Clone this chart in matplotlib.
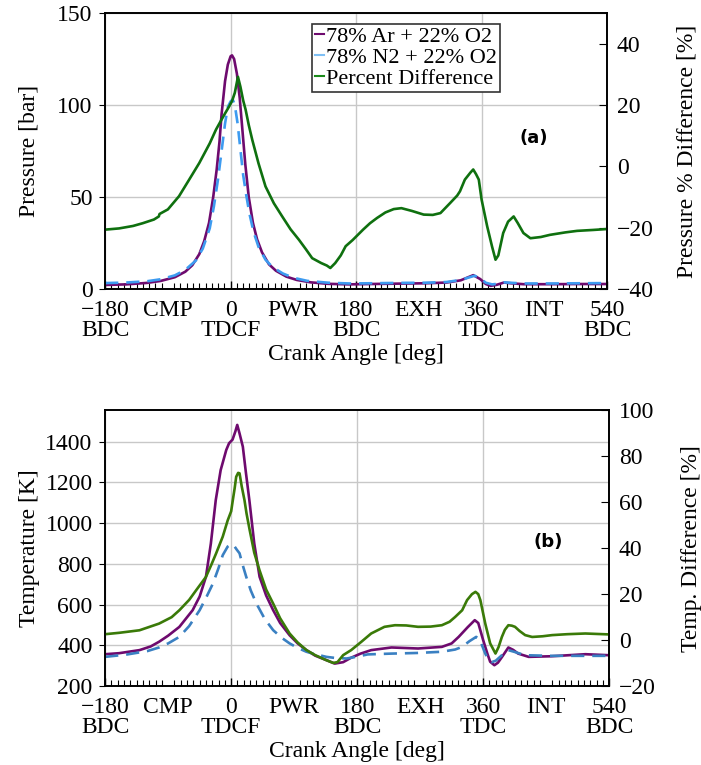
import numpy as np
import matplotlib
matplotlib.use("Agg")
import matplotlib.pyplot as plt
from matplotlib.ticker import MultipleLocator
from matplotlib.lines import Line2D

plt.rcParams['font.family'] = ['Liberation Serif', 'DejaVu Serif']
plt.rcParams['font.size'] = 17

# ---- data ----
# (a) pressure [bar]
p_ar_deg = [-180, -150, -120, -100, -80, -65, -55, -45, -38, -31, -25, -20, -16, -13, -8, -4, 0, 2, 5, 9,
            13, 17, 21, 26, 32, 38, 45, 55, 65, 80, 95, 115, 140, 170, 200, 240, 280, 310, 330, 348,
            358, 366, 373, 382, 392, 402, 420, 460, 500, 540]
p_ar = [2.3, 2.6, 3.4, 4.5, 6.5, 9.5, 13, 19, 26, 36, 50, 65, 80, 95, 113, 122, 126.5, 127, 125, 117,
        104, 86, 68, 50, 36, 27, 20, 13.5, 10, 6.8, 5, 3.7, 2.9, 2.6, 2.8, 3.0, 3.2, 3.6, 4.8, 7.6,
        5.5, 2.8, 1.8, 2.4, 3.6, 3.2, 2.7, 2.7, 2.8, 2.8]

p_n2_deg = [-180, -150, -120, -100, -80, -65, -50, -40, -30, -24, -18, -13, -8, -4, 0, 3, 6, 10, 14, 18,
            22, 27, 33, 40, 50, 60, 75, 90, 110, 140, 170, 200, 240, 280, 310, 330, 350, 358, 366, 375,
            385, 393, 405, 420, 460, 500, 540]
p_n2 = [3.3, 3.6, 4.3, 5.4, 7.5, 10.5, 15.5, 22, 33, 45, 60, 75, 90, 99, 102, 103, 100, 90, 76, 62,
        52, 41, 31, 23, 16, 12, 8.5, 6.2, 4.5, 3.5, 3.1, 3.2, 3.4, 3.5, 3.9, 5.0, 7.3, 6, 3.5, 2.6,
        3.0, 3.7, 3.4, 3.1, 3.1, 3.2, 3.3]

p_diff_deg = [-180, -160, -140, -126, -110, -103, -102, -90, -74, -60, -45, -30, -21, -10, -2, 2, 6, 10.5,
              14, 18, 21.5, 26, 31, 40, 50, 62, 74, 86, 98, 108, 117, 130, 138, 143, 150, 158, 165, 175,
              190, 200, 210, 222, 234, 245, 260, 277, 290, 301, 315, 325, 329, 336, 344, 348, 352, 356,
              360, 368, 375, 380, 384, 391, 398, 406, 412, 420, 430, 445, 458, 480, 497, 520, 540]
p_diff = [-20.6, -20.2, -19.4, -18.5, -17.3, -16.3, -15.5, -14, -9.7, -4.5, 1.1, 7.5, 12, 16.5, 19.6, 21.3, 24, 29.2,
          26, 21.5, 18.5, 13.5, 8.7, 1, -6.5, -12, -16.3, -20.5, -23.9, -27, -29.9, -31.5, -32.3, -33.1, -31.5, -29, -26, -24,
          -20.6, -18.5, -16.8, -15, -13.9, -13.6, -14.5, -15.7, -15.8, -15.2, -11.9, -9.5, -8.1, -4.3, -2, -1.0, -2.5, -4.3,
          -10.8, -19.5, -26.1, -30.4, -29, -21.7, -18, -16.3, -18.5, -21.7, -23.4, -23, -22.3, -21.5, -21, -20.7, -20.4]

# (b) temperature [K]
t_ar_deg = [-180, -160, -131, -115, -103, -90, -74, -55, -45, -36, -29, -22, -15, -7, -3, 2, 6, 8.7, 12, 16.7,
            21, 26, 33, 40.6, 50, 60, 70, 83.5, 95, 107.5, 120, 136, 148, 160, 171.5, 185, 200, 229, 267, 301,
            315, 325, 338, 348, 353, 360, 366, 370, 376, 381, 387, 396, 403, 410, 425, 458, 506, 540]
t_ar = [357, 362, 377, 395, 418, 448, 491, 573, 640, 737, 900, 1113, 1260, 1359, 1392, 1410, 1450, 1482, 1440, 1375,
        1250, 1113, 900, 737, 645, 573, 510, 450, 410, 377, 350, 328, 311, 318, 340, 360, 377, 390, 385, 393,
        410, 442, 490, 524, 510, 426, 360, 320, 303, 315, 344, 390, 378, 360, 344, 347, 357, 352]

t_n2_deg = [-180, -150, -120, -103, -90, -74, -60, -45, -35, -26, -18, -12, -5, 0, 4, 8, 12, 16, 21.5, 28,
            36, 48, 60, 72, 83.5, 95, 107.5, 120, 136, 150, 165, 180, 195, 229, 265, 301, 320, 330, 340, 350,
            355, 363, 368, 372, 378, 386.7, 396, 405, 420, 458, 540]
t_n2 = [344, 355, 372, 390, 410, 442, 495, 573, 640, 704, 780, 843, 885, 897, 890, 870, 852, 800, 737, 670,
        606, 530, 475, 438, 410, 388, 369, 357, 344, 338, 336, 345, 356, 360, 363, 369, 380, 393, 420, 442,
        430, 360, 330, 318, 325, 352, 377, 368, 352, 349, 349]

t_diff_deg = [-180, -160, -131, -103, -85, -74, -60, -50, -36, -28, -21.5, -12, -5, 0, 2.4, 5, 7.2, 10, 12, 15,
              19, 22, 26.5, 33, 40.5, 50, 60, 70, 83.5, 95, 107.5, 120, 136, 146, 152, 160, 171.5, 186, 200, 219,
              234, 250, 267, 285, 301, 312, 320, 330, 337, 344, 349, 353, 356, 363, 370, 377.6, 382, 386.7, 391, 396,
              401, 405.5, 412, 420, 430, 445, 458.5, 480, 506, 540]
t_diff = [2.6, 3.2, 4.3, 7.2, 10, 13, 17.5, 21.7, 27.5, 33, 37.7, 45, 52, 56, 60.9, 66, 71, 72.7, 72.5, 67,
          60.9, 55, 47.8, 38, 30.4, 22, 15.9, 9.5, 2.9, -1, -4.3, -6.5, -8.7, -9.9, -9.5, -6.5, -4.3, -0.7, 2.9, 5.8,
          6.5, 6.4, 5.8, 5.9, 6.5, 8, 10.1, 13, 17.4, 20, 21, 20, 17.4, 7.2, -1.4, -5.8, -3, 1.4, 4.5, 6.5,
          6.3, 5.8, 4, 2.2, 1.4, 1.7, 2.2, 2.6, 2.9, 2.5]

tick_pos = [-180, -90, 0, 90, 180, 270, 360, 450, 540]
tick_lab = ['\u2212180\nBDC', 'CMP', '0\nTDCF', 'PWR', '180\nBDC', 'EXH', '360\nTDC', 'INT', '540\nBDC']

purple = '#6e0a6e'


def style_x(ax):
    ax.set_xlim(-180, 540)
    ax.set_xticks(tick_pos)
    ax.set_xticklabels(tick_lab)
    ax.xaxis.set_minor_locator(MultipleLocator(9))
    ax.tick_params(axis='x', which='major', direction='in', length=6, width=1, pad=8, top=False)
    ax.tick_params(axis='x', which='minor', direction='in', length=4, width=0.8, top=False)
    for i, t in enumerate(ax.xaxis.get_major_ticks()):
        t.label1.set_linespacing(0.92)
        if i % 2 == 1:
            t.tick1line.set_visible(False)
            t.gridline.set_visible(False)
    ax.set_xlabel('Crank Angle [deg]', labelpad=2)


fig = plt.figure(figsize=(7.01, 7.65), dpi=100)

# ---- (a) ----
ax1 = fig.add_axes([0.150, 0.622, 0.716, 0.361])
ax1.plot(p_ar_deg, p_ar, color=purple, lw=1.9)
ax1.plot(p_n2_deg, p_n2, color='#3d9bf0', lw=1.9, dashes=(5, 3))
ax1.set_ylim(0, 150)
ax1.set_yticks([0, 50, 100, 150])
ax1.set_ylabel('Pressure [bar]', labelpad=13)
ax1.grid(True, color='#c8c8c8', lw=1)
ax1.tick_params(axis='y', direction='out', length=4, pad=5)
style_x(ax1)

ax1r = ax1.twinx()
ax1r.plot(p_diff_deg, p_diff, color='#0f700f', lw=1.9)
ax1r.set_ylim(-40, 50)
ax1r.set_yticks([-40, -20, 0, 20, 40])
ax1r.tick_params(axis='y', direction='in', length=6, pad=7)
ax1r.set_ylabel('Pressure % Difference [%]', labelpad=16)
ax1r.text(0.853, 0.547, '(a)', transform=ax1r.transAxes, family='DejaVu Sans',
          fontweight='bold', fontsize=13, ha='center', va='center')

handles = [Line2D([], [], color=purple, lw=1.5),
           Line2D([], [], color='#7fc0f5', lw=1.5),
           Line2D([], [], color='#1a8a1a', lw=1.5)]
leg = ax1r.legend(handles, ['78% Ar + 22% O2', '78% N2 + 22% O2', 'Percent Difference'],
                  loc='upper left', bbox_to_anchor=(0.413, 0.96), fontsize=16,
                  handlelength=0.4, handletextpad=0.1, borderpad=0.12, labelspacing=0.02,
                  fancybox=False, framealpha=1, borderaxespad=0)
leg.get_frame().set_edgecolor('#333333')
leg.get_frame().set_linewidth(1.2)

# ---- (b) ----
ax2 = fig.add_axes([0.150, 0.103, 0.719, 0.361])
ax2.plot(t_ar_deg, t_ar, color=purple, lw=1.9)
ax2.plot(t_n2_deg, t_n2, color='#3a80c2', lw=1.9, dashes=(5, 3))
ax2.set_ylim(200, 1555)
ax2.set_yticks([200, 400, 600, 800, 1000, 1200, 1400])
ax2.set_ylabel('Temperature [K]', labelpad=4)
ax2.grid(True, color='#c8c8c8', lw=1)
ax2.tick_params(axis='y', direction='out', length=4, pad=5)
style_x(ax2)

ax2r = ax2.twinx()
ax2r.plot(t_diff_deg, t_diff, color='#3a7a08', lw=1.9)
ax2r.set_ylim(-20, 100)
ax2r.set_yticks([-20, 0, 20, 40, 60, 80, 100])
ax2r.tick_params(axis='y', direction='in', length=6, pad=7)
ax2r.set_ylabel('Temp. Difference [%]', labelpad=18)
ax2r.text(0.879, 0.522, '(b)', transform=ax2r.transAxes, family='DejaVu Sans',
          fontweight='bold', fontsize=13, ha='center', va='center')

for a in (ax1, ax1r, ax2, ax2r):
    for s in a.spines.values():
        s.set_linewidth(1.2)

fig.savefig('out.png', dpi=100)
